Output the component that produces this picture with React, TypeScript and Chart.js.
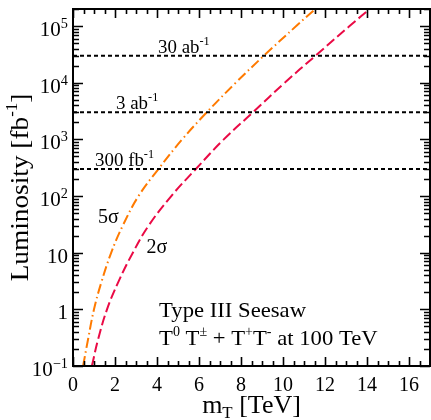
import { useEffect, useRef } from "react";
import { Chart, registerables } from "chart.js";

Chart.register(...registerables);

// 5 sigma discovery reach (orange, dash-dot)
const massFiveSigma = [0.48, 0.72, 1.0, 1.35, 1.82, 2.37, 3.12, 4.07, 5.2, 6.37, 7.75, 9.09, 10.63, 11.67];
const lumiFiveSigma = [0.1, 0.3, 1, 3, 10, 30, 100, 300, 1000, 3000, 10000, 30000, 100000, 220000];

// 2 sigma exclusion reach (red, dashed)
const massTwoSigma = [0.9, 1.2, 1.62, 2.15, 2.85, 3.6, 4.68, 5.85, 7.18, 8.57, 10.08, 11.55, 13.17, 14.26];
const lumiTwoSigma = [0.1, 0.3, 1, 3, 10, 30, 100, 300, 1000, 3000, 10000, 30000, 100000, 220000];

// reference luminosities (dotted)
const referenceLumis = [300, 3000, 30000];
const referenceLabels = ["300 fb", "3 ab", "30 ab"];
const referenceLabelX = [1.05, 2.05, 4.05];

const xTicks = [0, 2, 4, 6, 8, 10, 12, 14, 16];
const yTickExponents = [-1, 0, 1, 2, 3, 4, 5];

const X_MIN = 0;
const X_MAX = 17;
const Y_MIN = 0.1;
const Y_MAX = 2e5;

const FONT = '"Liberation Serif", "Times New Roman", serif';

type Run = { t: string; sup?: boolean; sub?: boolean };

function drawRuns(
  ctx: CanvasRenderingContext2D,
  runs: Run[],
  x: number,
  y: number,
  size: number,
  align: "left" | "center" | "right" = "left",
  sx = 1,
  supScale = 0.65,
  supRaise = 0.42,
  subDrop = 0.22
) {
  ctx.textAlign = "left";
  ctx.textBaseline = "alphabetic";
  const widths = runs.map((r) => {
    ctx.font = `${r.sup || r.sub ? size * supScale : size}px ${FONT}`;
    return ctx.measureText(r.t).width;
  });
  const total = widths.reduce((a, b) => a + b, 0) * sx;
  const start = align === "left" ? x : align === "right" ? x - total : x - total / 2;
  ctx.save();
  ctx.translate(start, y);
  ctx.scale(sx, 1);
  let cx = 0;
  runs.forEach((r, i) => {
    ctx.font = `${r.sup || r.sub ? size * supScale : size}px ${FONT}`;
    const dy = r.sup ? -size * supRaise : r.sub ? size * subDrop : 0;
    ctx.fillText(r.t, cx, dy);
    cx += widths[i];
  });
  ctx.restore();
}

const decorPlugin = {
  id: "decor",
  afterDatasetsDraw(chart: any) {
    const { ctx, chartArea: a, scales } = chart;
    const xs = scales.x;
    const ys = scales.y;
    ctx.save();
    ctx.strokeStyle = "#000";
    ctx.lineWidth = 1.6;
    ctx.beginPath();
    // x ticks every 0.5, major every 2
    for (let v = X_MIN; v <= X_MAX + 1e-9; v += 0.5) {
      const px = Math.round(xs.getPixelForValue(v)) + 0.5;
      const len = Math.abs(v % 2) < 1e-9 ? 9 : 5;
      ctx.moveTo(px, a.bottom);
      ctx.lineTo(px, a.bottom - len);
      ctx.moveTo(px, a.top);
      ctx.lineTo(px, a.top + len);
    }
    // y ticks (log)
    for (let k = -1; k <= 5; k++) {
      for (let m = 1; m <= 9; m++) {
        const v = m * Math.pow(10, k);
        if (v < Y_MIN - 1e-12 || v > Y_MAX) continue;
        const py = Math.round(ys.getPixelForValue(v)) + 0.5;
        const len = m === 1 ? 10 : 6;
        ctx.moveTo(a.left, py);
        ctx.lineTo(a.left + len, py);
        ctx.moveTo(a.right, py);
        ctx.lineTo(a.right - len, py);
      }
    }
    ctx.stroke();
    // frame
    ctx.lineWidth = 2;
    ctx.strokeRect(a.left, a.top, a.right - a.left, a.bottom - a.top);
    ctx.restore();
  },
  afterDraw(chart: any) {
    const { ctx, chartArea: a, scales } = chart;
    const xs = scales.x;
    const ys = scales.y;
    ctx.save();
    ctx.fillStyle = "#000";

    // x tick labels
    xTicks.forEach((v) => {
      drawRuns(ctx, [{ t: String(v) }], xs.getPixelForValue(v), a.bottom + 25, 20, "center");
    });

    // y tick labels
    yTickExponents.forEach((e) => {
      const py = ys.getPixelForValue(Math.pow(10, e));
      let runs: Run[];
      if (e === 0) runs = [{ t: "1" }];
      else if (e === 1) runs = [{ t: "10" }];
      else runs = [{ t: "10" }, { t: e < 0 ? "\u2212" + Math.abs(e) : String(e), sup: true }];
      drawRuns(ctx, runs, a.left - 5, py + 10, 21, "right", 1, 0.68, 0.38);
    });

    // axis titles
    drawRuns(
      ctx,
      [{ t: "m" }, { t: "T", sub: true }, { t: " [TeV]" }],
      (a.left + a.right) / 2,
      a.bottom + 47,
      26,
      "center",
      1,
      0.65,
      0.4,
      0.2
    );
    ctx.save();
    ctx.translate(28, (a.top + a.bottom) / 2);
    ctx.rotate(-Math.PI / 2);
    drawRuns(
      ctx,
      [{ t: "Luminosity [fb" }, { t: "-1", sup: true }, { t: "]" }],
      0,
      0,
      26,
      "center",
      1.05,
      0.62,
      0.42
    );
    ctx.restore();

    // reference line labels
    referenceLumis.forEach((L, i) => {
      drawRuns(
        ctx,
        [{ t: referenceLabels[i] }, { t: "-1", sup: true }],
        xs.getPixelForValue(referenceLabelX[i]),
        ys.getPixelForValue(L) - 3,
        18,
        "left",
        1.05,
        0.65,
        0.45
      );
    });

    // curve labels
    drawRuns(ctx, [{ t: "5\u03c3" }], xs.getPixelForValue(1.19), ys.getPixelForValue(34), 20, "left");
    drawRuns(ctx, [{ t: "2\u03c3" }], xs.getPixelForValue(3.5), ys.getPixelForValue(9.9), 20, "left");

    // process text
    drawRuns(ctx, [{ t: "Type III Seesaw" }], xs.getPixelForValue(4.1), ys.getPixelForValue(0.73), 22, "left", 1.03);
    drawRuns(
      ctx,
      [
        { t: "T" },
        { t: "0", sup: true },
        { t: " T" },
        { t: "\u00b1", sup: true },
        { t: " + T" },
        { t: "+", sup: true },
        { t: "T" },
        { t: "-", sup: true },
        { t: " at 100 TeV" },
      ],
      xs.getPixelForValue(4.1),
      ys.getPixelForValue(0.234),
      22,
      "left",
      1.03,
      0.62,
      0.42
    );
    ctx.restore();
  },
};

export default function App() {
  const canvasRef = useRef<HTMLCanvasElement | null>(null);

  useEffect(() => {
    const canvas = canvasRef.current;
    if (!canvas) return;
    const toPts = (xs: number[], ys: number[]) => xs.map((x, i) => ({ x, y: ys[i] }));
    const refSets = referenceLumis.map((L) => ({
      label: `ref ${L}`,
      data: [
        { x: X_MIN, y: L },
        { x: X_MAX, y: L },
      ],
      showLine: true,
      borderColor: "#000",
      borderWidth: 2,
      borderDash: [4, 3],
      pointRadius: 0,
      tension: 0,
    }));
    const chart = new Chart(canvas, {
      type: "scatter",
      data: {
        datasets: [
          ...refSets,
          {
            label: "5 sigma",
            data: toPts(massFiveSigma, lumiFiveSigma),
            showLine: true,
            borderColor: "#ff7a00",
            borderWidth: 2,
            borderDash: [10, 3.5, 1.5, 3.5],
            pointRadius: 0,
            tension: 0.4,
          },
          {
            label: "2 sigma",
            data: toPts(massTwoSigma, lumiTwoSigma),
            showLine: true,
            borderColor: "#ea0a45",
            borderWidth: 2,
            borderDash: [10, 4],
            pointRadius: 0,
            tension: 0.4,
          },
        ] as any,
      },
      options: {
        animation: false,
        responsive: false,
        devicePixelRatio: 1,
        layout: { padding: { left: 73, top: 9, right: 1, bottom: 54 } },
        plugins: {
          legend: { display: false },
          tooltip: { enabled: false },
          title: { display: false },
        },
        scales: {
          x: {
            type: "linear",
            min: X_MIN,
            max: X_MAX,
            grid: { display: false },
            border: { display: false },
            ticks: { display: false },
            afterFit: (s: any) => {
              s.height = 0;
            },
          },
          y: {
            type: "logarithmic",
            min: Y_MIN,
            max: Y_MAX,
            grid: { display: false },
            border: { display: false },
            ticks: { display: false },
            afterFit: (s: any) => {
              s.width = 0;
            },
          },
        },
      },
      plugins: [decorPlugin],
    });
    return () => chart.destroy();
  }, []);

  return (
    <div style={{ position: "absolute", left: 0, top: 0, width: 431, height: 420, background: "#fff" }}>
      <canvas ref={canvasRef} width={431} height={420} style={{ display: "block", width: 431, height: 420 }} />
    </div>
  );
}
